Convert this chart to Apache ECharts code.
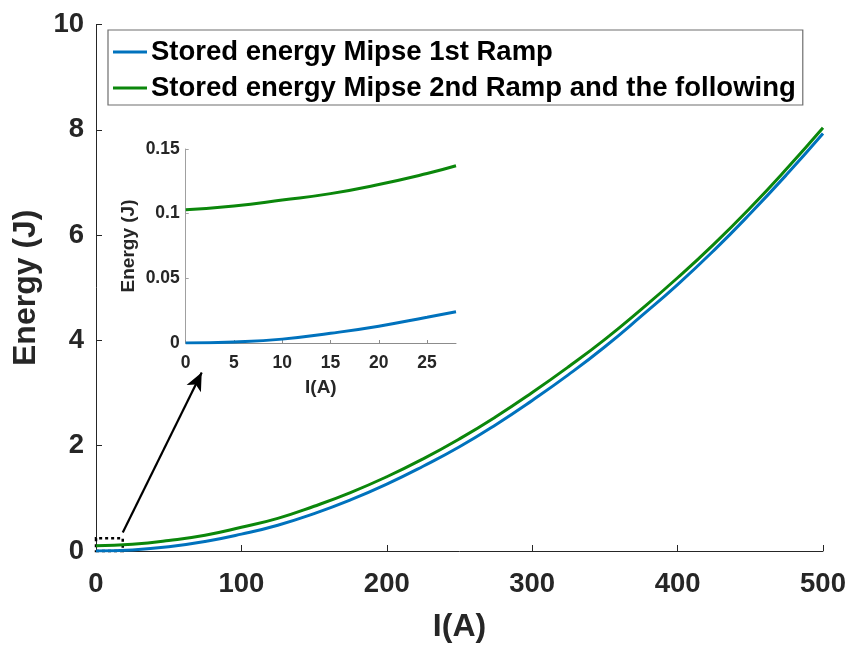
<!DOCTYPE html>
<html>
<head>
<meta charset="utf-8">
<script src="https://cdn.jsdelivr.net/npm/echarts@6/dist/echarts.min.js"></script>
<style>
html,body{margin:0;padding:0;background:#fff;}
#c{width:852px;height:646px;}
</style>
</head>
<body>
<div id="c"></div>
<script>
// Main plot data
var current = [0, 25, 50, 75, 100, 125, 150, 175, 200, 225, 250, 275, 300, 325, 350, 375, 400, 425, 450, 475, 500];
var energyRamp1 = [0, 0.02, 0.08, 0.18, 0.32, 0.49, 0.71, 0.97, 1.27, 1.61, 1.98, 2.40, 2.86, 3.35, 3.88, 4.46, 5.06, 5.71, 6.41, 7.15, 7.93];
var energyRamp2 = [0.10, 0.13, 0.20, 0.30, 0.45, 0.62, 0.85, 1.11, 1.41, 1.75, 2.13, 2.55, 3.01, 3.50, 4.02, 4.59, 5.19, 5.83, 6.52, 7.26, 8.04];

// Inset (zoom) data
var insetCurrent = [0, 5, 10, 15, 20, 25, 28];
var insetRamp1 = [0, 0.0008, 0.003, 0.0075, 0.013, 0.0199, 0.0242];
var insetRamp2 = [0.103, 0.106, 0.1105, 0.1155, 0.1225, 0.131, 0.137];

var seriesNames = ['Stored energy Mipse 1st Ramp', 'Stored energy Mipse 2nd Ramp and the following'];
var mainXTicks = [0, 100, 200, 300, 400, 500];
var mainYTicks = [0, 2, 4, 6, 8, 10];

function pairs(xs, ys) { return xs.map(function (x, i) { return [x, ys[i]]; }); }

var BLUE = '#0072BD', GREEN = '#0b870b', AX = '#262626';
var FONT = 'Liberation Sans, Arial, Helvetica, sans-serif';

var chart = echarts.init(document.getElementById('c'));
chart.setOption({
  animation: false,
  backgroundColor: '#fff',
  legend: {
    data: seriesNames,
    orient: 'vertical',
    left: 108, top: 30,
    padding: [8, 7, 3, 5],
    itemGap: 8,
    itemWidth: 34, itemHeight: 3,
    icon: 'rect',
    borderColor: '#6e6e6e', borderWidth: 1.2,
    backgroundColor: '#fff',
    textStyle: { fontFamily: FONT, fontWeight: 'bold', fontSize: 27.5, lineHeight: 28, color: '#000', padding: [0, 0, 0, -1] }
  },
  grid: [
    { left: 96, right: 29, top: 24.5, bottom: 95, containLabel: false, outerBoundsMode: 'none' },
    { left: 185.7, right: 396, top: 149, bottom: 303, containLabel: false, outerBoundsMode: 'none', show: true, backgroundColor: '#fff', borderWidth: 0 }
  ],
  xAxis: [
    {
      gridIndex: 0, type: 'value', min: mainXTicks[0], max: mainXTicks[mainXTicks.length - 1], interval: 100,
      name: 'I(A)', nameLocation: 'middle', nameGap: 60,
      nameTextStyle: { fontFamily: FONT, fontWeight: 'bold', fontSize: 32, color: AX },
      axisLine: { show: true, lineStyle: { color: AX, width: 1 } },
      axisTick: { show: true, inside: true, length: 6, lineStyle: { color: AX } },
      axisLabel: { fontFamily: FONT, fontWeight: 'bold', fontSize: 27.5, color: AX, margin: 19 },
      splitLine: { show: false }
    },
    {
      gridIndex: 1, type: 'value', min: 0, max: 28, interval: 5,
      name: 'I(A)', nameLocation: 'middle', nameGap: 35,
      nameTextStyle: { fontFamily: FONT, fontWeight: 'bold', fontSize: 19, color: AX },
      axisLine: { show: true, lineStyle: { color: '#8c8c8c', width: 1 } },
      axisTick: { show: true, inside: true, length: 3, lineStyle: { color: '#8c8c8c' } },
      axisLabel: { fontFamily: FONT, fontWeight: 'bold', fontSize: 17.5, color: AX, margin: 11, showMaxLabel: false },
      splitLine: { show: false }
    }
  ],
  yAxis: [
    {
      gridIndex: 0, type: 'value', min: mainYTicks[0], max: mainYTicks[mainYTicks.length - 1], interval: 2,
      name: 'Energy (J)', nameLocation: 'middle', nameGap: 53, nameRotate: 90,
      nameTextStyle: { fontFamily: FONT, fontWeight: 'bold', fontSize: 32, color: AX },
      axisLine: { show: true, lineStyle: { color: AX, width: 1 } },
      axisTick: { show: true, inside: true, length: 6, lineStyle: { color: AX } },
      axisLabel: { fontFamily: FONT, fontWeight: 'bold', fontSize: 27.5, color: AX, margin: 12 },
      splitLine: { show: false }
    },
    {
      gridIndex: 1, type: 'value', min: 0, max: 0.15, interval: 0.05,
      name: 'Energy (J)', nameLocation: 'middle', nameGap: 47, nameRotate: 90,
      nameTextStyle: { fontFamily: FONT, fontWeight: 'bold', fontSize: 19, color: AX },
      axisLine: { show: true, lineStyle: { color: '#a0a0a0', width: 1 } },
      axisTick: { show: true, inside: true, length: 3, lineStyle: { color: '#a0a0a0' } },
      axisLabel: { fontFamily: FONT, fontWeight: 'bold', fontSize: 17.5, color: AX, margin: 6,
        formatter: function (v) { return String(+v.toFixed(2)); } },
      splitLine: { show: false }
    }
  ],
  series: [
    {
      name: seriesNames[0], type: 'line', xAxisIndex: 0, yAxisIndex: 0,
      data: pairs(current, energyRamp1), smooth: true, showSymbol: false,
      lineStyle: { color: BLUE, width: 3 }, itemStyle: { color: BLUE }, z: 3,
      markArea: {
        silent: true,
        itemStyle: { color: 'rgba(0,0,0,0)', borderColor: '#000', borderWidth: 2.5, borderType: [3, 3] },
        data: [[{ coord: [0, 0] }, { coord: [18.4, 0.24] }]]
      },
      markLine: {
        silent: true, animation: false,
        symbol: ['none', 'arrow'], symbolSize: [12, 18],
        lineStyle: { color: '#000', width: 2.2, type: 'solid' },
        label: { show: false },
        data: [[{ coord: [18.4, 0.35] }, { coord: [72.7, 3.39] }]]
      }
    },
    {
      name: seriesNames[1], type: 'line', xAxisIndex: 0, yAxisIndex: 0,
      data: pairs(current, energyRamp2), smooth: true, showSymbol: false,
      lineStyle: { color: GREEN, width: 3 }, itemStyle: { color: GREEN }, z: 3
    },
    {
      name: 'inset1', type: 'line', xAxisIndex: 1, yAxisIndex: 1,
      data: pairs(insetCurrent, insetRamp1), smooth: true, showSymbol: false,
      lineStyle: { color: BLUE, width: 3 }, itemStyle: { color: BLUE }, z: 5
    },
    {
      name: 'inset2', type: 'line', xAxisIndex: 1, yAxisIndex: 1,
      data: pairs(insetCurrent, insetRamp2), smooth: true, showSymbol: false,
      lineStyle: { color: GREEN, width: 3 }, itemStyle: { color: GREEN }, z: 5
    }
  ]
});
</script>
</body>
</html>
